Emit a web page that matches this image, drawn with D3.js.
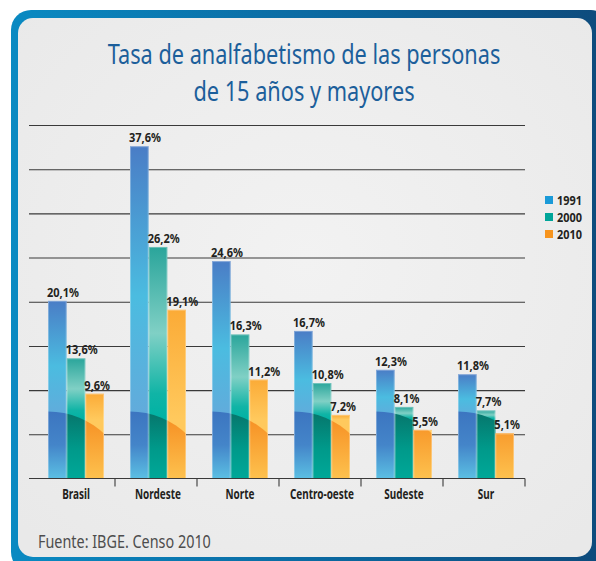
<!DOCTYPE html>
<html>
<head>
<meta charset="utf-8">
<script src="https://cdn.jsdelivr.net/npm/d3@7"></script>
<style>
	body { margin: 0; background: #fff; }
	svg { display: block; }
	text { font-family: "Noto Sans", "Open Sans", sans-serif; }
</style>
</head>
<body>
<div id="chart"></div>
<script>
var categories = ["Brasil", "Nordeste", "Norte", "Centro-oeste", "Sudeste", "Sur"];
var years = ["1991", "2000", "2010"];
var values1991 = [20.1, 37.6, 24.6, 16.7, 12.3, 11.8];
var values2000 = [13.6, 26.2, 16.3, 10.8, 8.1, 7.7];
var values2010 = [9.6, 19.1, 11.2, 7.2, 5.5, 5.1];
var gridTicks = [5, 10, 15, 20, 25, 30, 35, 40];
var titleLines = ["Tasa de analfabetismo de las personas", "de 15 años y mayores"];
var sourceText = "Fuente: IBGE. Censo 2010";

var series = [values1991, values2000, values2010];

// colours: legend swatch, bar gradient (upper part), darker part under the curve
var legendColors = ["#1a9ad8", "#00a599", "#f7941d"];
var barStops = [
	[["0", "#4a7dc6"], ["0.55", "#4bbce0"], ["1", "#63aadb"]],
	[["0", "#2aa59b"], ["0.5", "#80d0c5"], ["0.85", "#10b4a6"], ["1", "#00b2a4"]],
	[["0", "#fbab37"], ["1", "#ffc95d"]]
];
var shadeStops = [
	[["0", "#3c75c0"], ["0.5", "#4485c9"], ["1", "#5bbfe3"]],
	[["0", "#06756b"], ["0.55", "#00998a"], ["1", "#00a898"]],
	[["0", "#f68b1f"], ["1", "#fdc14e"]]
];

var W = 596, H = 561;

// squeeze text horizontally (around its anchor) so it looks like the condensed face of the original
function condense(sel, factor) {
	sel.each(function() {
		var t = d3.select(this);
		var tx = +t.attr("x"), ty = +t.attr("y");
		t.attr("x", 0).attr("y", 0)
			.attr("transform", "translate(" + tx + "," + ty + ") scale(" + factor + ",1)");
	});
}
// factor that brings a reference string to a wanted width
function fitFactor(sel, wanted) {
	return wanted / sel.node().getComputedTextLength();
}

var svg = d3.select("#chart")
	.append("svg")
	.attr("width", W)
	.attr("height", H);

var defs = svg.append("defs");

// frame gradient
var fg = defs.append("linearGradient").attr("id", "frameGrad")
	.attr("x1", "0").attr("x2", "1").attr("y1", "0").attr("y2", "0");
fg.append("stop").attr("offset", "0").attr("stop-color", "#0a8ac2");
fg.append("stop").attr("offset", "0.5").attr("stop-color", "#0b6aa2");
fg.append("stop").attr("offset", "1").attr("stop-color", "#0e4a7b");

var pg = defs.append("radialGradient").attr("id", "panelGrad")
	.attr("cx", "0.5").attr("cy", "0.45").attr("r", "0.7");
pg.append("stop").attr("offset", "0").attr("stop-color", "#f2f2f2");
pg.append("stop").attr("offset", "1").attr("stop-color", "#e9e9e9");

svg.append("rect")
	.attr("x", 11).attr("y", 10)
	.attr("width", 600).attr("height", 562)
	.attr("rx", 20)
	.attr("fill", "url(#frameGrad)");

svg.append("rect")
	.attr("x", 18).attr("y", 18)
	.attr("width", 574).attr("height", 539)
	.attr("rx", 15)
	.attr("fill", "url(#panelGrad)");

// title
var title = svg.selectAll("text.title")
	.data(titleLines)
	.enter()
	.append("text")
	.attr("class", "title")
	.attr("x", 304)
	.attr("y", function(d, i) { return 64 + i * 37; })
	.attr("text-anchor", "middle")
	.attr("fill", "#1c5f9b")
	.style("font-size", "27.5px")
	.text(function(d) { return d; });
condense(title, fitFactor(title, 393));

// scales
var axisLeftX = 29, axisRightX = 525;
var x0 = d3.scaleBand()
	.domain(categories)
	.range([33, 525]);

var groupW = 56;
var x1 = d3.scaleBand()
	.domain(years)
	.range([0, groupW]);

var y = d3.scaleLinear()
	.domain([0, 40])
	.range([478.5, 125]);

function groupLeft(c) {
	return x0(c) + (x0.bandwidth() - groupW) / 2 + 2;
}

// grid lines
var grid = svg.append("g")
	.attr("transform", "translate(" + axisRightX + ",0)")
	.call(d3.axisLeft(y)
		.tickValues(gridTicks)
		.tickSize(axisRightX - axisLeftX)
		.tickFormat(""));
grid.select(".domain").remove();
grid.selectAll("line")
	.attr("stroke", "#3a3a3a")
	.attr("stroke-width", 1.1);

// bars
var curveTop = y(0) - 67;
var R = 82;

var rows = [];
categories.forEach(function(c, ci) {
	years.forEach(function(yr, si) {
		rows.push({ cat: c, ci: ci, year: yr, si: si, value: series[si][ci] });
	});
});

// clip circle per group for the darker lower part
defs.selectAll("clipPath.grp")
	.data(categories)
	.enter()
	.append("clipPath")
	.attr("class", "grp")
	.attr("id", function(d, i) { return "clip" + i; })
	.append("circle")
	.attr("cx", function(d) { return groupLeft(d); })
	.attr("cy", curveTop + R)
	.attr("r", R);

// gradients per bar (upper part)
rows.forEach(function(d, i) {
	var top = y(d.value);
	var g = defs.append("linearGradient")
		.attr("id", "bar" + i)
		.attr("gradientUnits", "userSpaceOnUse")
		.attr("x1", 0).attr("x2", 0)
		.attr("y1", top).attr("y2", Math.max(top + 1, curveTop + 8));
	barStops[d.si].forEach(function(s) {
		g.append("stop").attr("offset", s[0]).attr("stop-color", s[1]);
	});
});

shadeStops.forEach(function(stops, si) {
	var g = defs.append("linearGradient")
		.attr("id", "shade" + si)
		.attr("gradientUnits", "userSpaceOnUse")
		.attr("x1", 0).attr("x2", 0)
		.attr("y1", curveTop).attr("y2", y(0));
	stops.forEach(function(s) {
		g.append("stop").attr("offset", s[0]).attr("stop-color", s[1]);
	});
});

var barG = svg.append("g");

barG.selectAll("rect.bar")
	.data(rows)
	.enter()
	.append("rect")
	.attr("class", "bar")
	.attr("x", function(d) { return groupLeft(d.cat) + x1(d.year); })
	.attr("y", function(d) { return y(d.value); })
	.attr("width", x1.bandwidth())
	.attr("height", function(d) { return y(0) - y(d.value); })
	.attr("fill", function(d, i) { return "url(#bar" + i + ")"; });

barG.selectAll("rect.shade")
	.data(rows)
	.enter()
	.append("rect")
	.attr("class", "shade")
	.attr("x", function(d) { return groupLeft(d.cat) + x1(d.year); })
	.attr("y", function(d) { return y(d.value); })
	.attr("width", x1.bandwidth())
	.attr("height", function(d) { return y(0) - y(d.value); })
	.attr("clip-path", function(d) { return "url(#clip" + d.ci + ")"; })
	.attr("fill", function(d) { return "url(#shade" + d.si + ")"; });

// thin light edge on the bars
barG.selectAll("rect.edge")
	.data(rows)
	.enter()
	.append("rect")
	.attr("class", "edge")
	.attr("x", function(d) { return groupLeft(d.cat) + x1(d.year) + 0.5; })
	.attr("y", function(d) { return y(d.value) + 0.5; })
	.attr("width", x1.bandwidth() - 1)
	.attr("height", function(d) { return y(0) - y(d.value) - 0.5; })
	.attr("fill", "none")
	.attr("stroke", "#ffffff")
	.attr("stroke-opacity", 0.3);

// value labels
var vals = barG.selectAll("text.val")
	.data(rows)
	.enter()
	.append("text")
	.attr("class", "val")
	.attr("x", function(d) { return groupLeft(d.cat) + x1(d.year) - 1; })
	.attr("y", function(d) { return y(d.value) - 4; })
	.attr("fill", "#231f20")
	.style("font-size", "12.5px")
	.style("font-weight", "bold")
	.text(function(d) { return d3.format(".1f")(d.value).replace(".", ",") + "%"; });
condense(vals, fitFactor(vals.filter(function(d) { return d.value == 12.3; }), 32));

// bottom axis line with ticks between categories
var xAxis = svg.append("g")
	.attr("transform", "translate(0," + y(0) + ")");
xAxis.append("line")
	.attr("x1", axisLeftX).attr("x2", axisRightX)
	.attr("y1", 0).attr("y2", 0)
	.attr("stroke", "#3a3a3a")
	.attr("stroke-width", 1.1);
xAxis.selectAll("line.sep")
	.data(categories.slice(1).concat(["end"]))
	.enter()
	.append("line")
	.attr("class", "sep")
	.attr("x1", function(d) { return d == "end" ? axisRightX : x0(d); })
	.attr("x2", function(d) { return d == "end" ? axisRightX : x0(d); })
	.attr("y1", 0).attr("y2", 8)
	.attr("stroke", "#3a3a3a")
	.attr("stroke-width", 1.1);

var cats = xAxis.selectAll("text.cat")
	.data(categories)
	.enter()
	.append("text")
	.attr("class", "cat")
	.attr("x", function(d) { return groupLeft(d) + groupW / 2; })
	.attr("y", 20)
	.attr("text-anchor", "middle")
	.attr("fill", "#231f20")
	.style("font-size", "13.5px")
	.style("font-weight", "bold")
	.text(function(d) { return d; });
condense(cats, fitFactor(cats.filter(function(d) { return d == "Nordeste"; }), 46));

// legend
var legend = svg.append("g")
	.selectAll("g")
	.data(years)
	.enter()
	.append("g")
	.attr("transform", function(d, i) { return "translate(545," + (196 + i * 17) + ")"; });
legend.append("rect")
	.attr("width", 8).attr("height", 8)
	.attr("fill", function(d, i) { return legendColors[i]; });
var legText = legend.append("text")
	.attr("x", 12)
	.attr("y", 8.5)
	.attr("fill", "#231f20")
	.style("font-size", "12px")
	.style("font-weight", "bold")
	.text(function(d) { return d; });
condense(legText, fitFactor(legText, 25));

// source
var source = svg.append("text")
	.attr("x", 38)
	.attr("y", 548)
	.attr("fill", "#4d4d4d")
	.style("font-size", "18px")
	.text(sourceText);
condense(source, fitFactor(source, 173));
</script>
</body>
</html>
